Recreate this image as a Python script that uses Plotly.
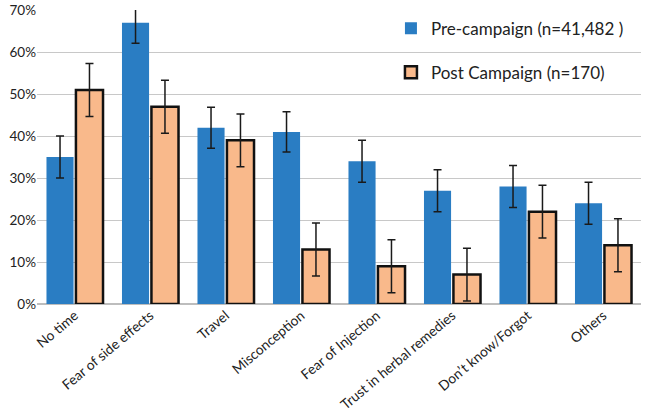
import plotly.graph_objects as go

categories = ["No time", "Fear of side effects", "Travel", "Misconception",
              "Fear of Injection", "Trust in herbal remedies", "Don\u2019t know/Forgot", "Others"]
pre_values = [35, 67, 42, 41, 34, 27, 28, 24]
pre_errors = [5, 4.9, 4.9, 4.8, 5, 5, 5, 5]
post_values = [51, 47, 39, 13, 9, 7, 22, 14]
post_errors = [6.3, 6.3, 6.3, 6.3, 6.3, 6.3, 6.3, 6.3]
pre_name = "Pre-campaign (n=41,482 )"
post_name = "Post Campaign (n=170)"
y_ticks = [0, 10, 20, 30, 40, 50, 60, 70]

FONT = "Lato"

fig = go.Figure()
fig.add_trace(go.Bar(
    x=categories, y=pre_values, name=pre_name,
    marker=dict(color="#2A7DC3", line=dict(width=0)),
    error_y=dict(type="data", array=pre_errors, color="#1a1a1a", thickness=1.5, width=4),
    cliponaxis=False, legendgroup="a",
))
fig.add_trace(go.Bar(
    x=categories, y=post_values, name=post_name,
    marker=dict(color="#F9B98B", line=dict(width=2.5, color="#111111")),
    error_y=dict(type="data", array=post_errors, color="#1a1a1a", thickness=1.5, width=4),
    cliponaxis=False, legendgroup="b",
))

fig.update_layout(
    width=646, height=414,
    margin=dict(l=37, r=5, t=10, b=110, autoexpand=False),
    paper_bgcolor="white", plot_bgcolor="white",
    barmode="group", bargap=0.22, bargroupgap=0.08,
    font=dict(family=FONT, size=13, color="#222222"),
    legend=dict(x=0.586, y=0.998, xanchor="left", yanchor="top",
                font=dict(size=17, color="#222222"), tracegroupgap=19,
                itemwidth=30, bgcolor="rgba(255,255,255,0)"),
    xaxis=dict(tickangle=-40, showgrid=False, showline=False, ticks="",
               tickfont=dict(size=13.8), automargin=False),
    yaxis=dict(range=[0, 70.05], tickvals=y_ticks,
               ticktext=[f"{v}%" for v in y_ticks],
               showgrid=True, gridcolor="#c8c8c8", gridwidth=1.3,
               zeroline=True, zerolinecolor="#bdbdbd", zerolinewidth=1.5,
               tickfont=dict(size=13.5), ticks="", automargin=False),
)

fig.write_html("out.html", config={"displayModeBar": False},
               post_script="document.body.style.margin='0';")
